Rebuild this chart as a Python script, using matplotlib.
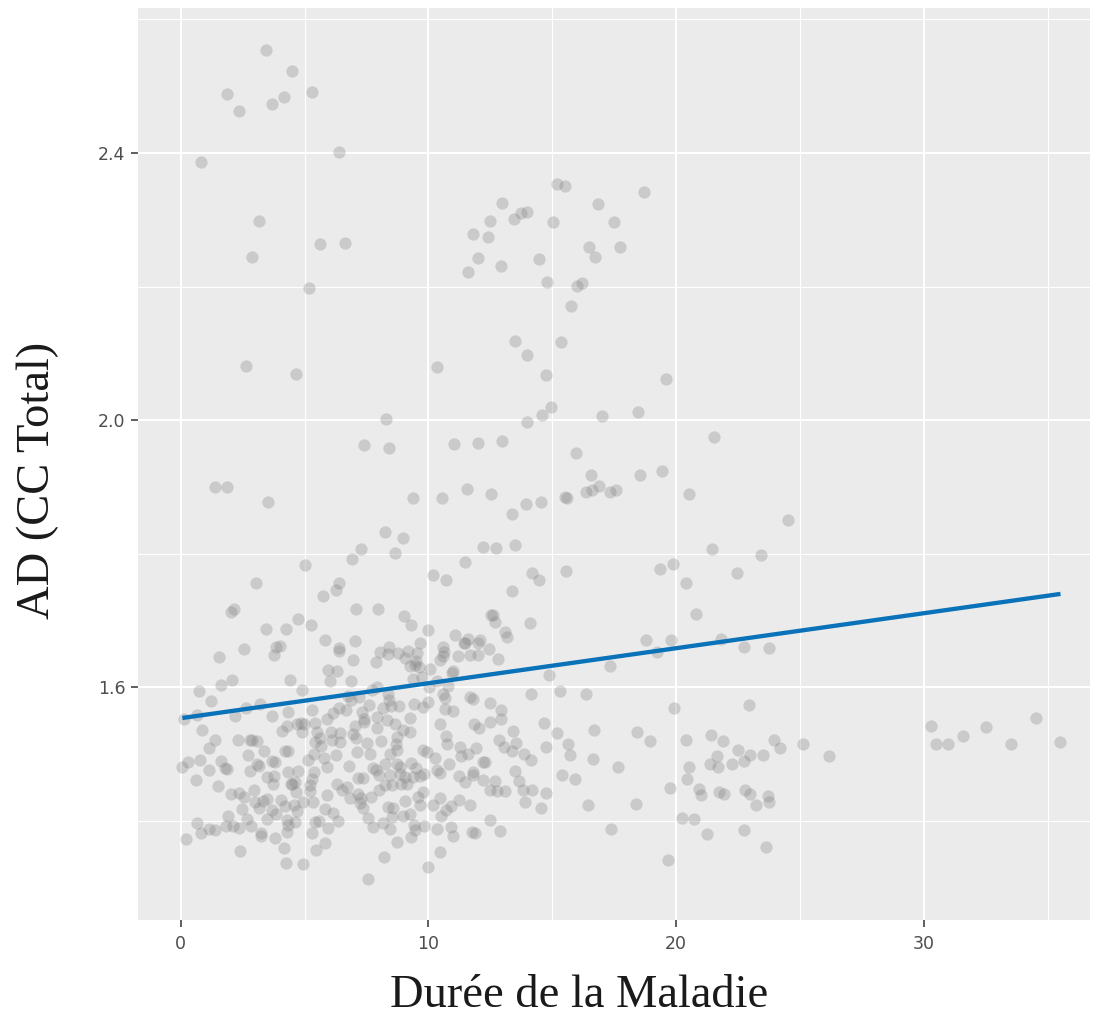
import numpy as np
import matplotlib
matplotlib.use('Agg')
import matplotlib.pyplot as plt

# ----------------- data -----------------#

duree = [
    3.46, 4.48, 1.87, 2.37, 3.69, 4.18, 5.30, 6.38, 0.82, 3.16, 2.89, 5.63, 6.62, 5.18,
    15.19, 15.51, 18.71, 12.97, 16.85, 13.73, 13.96, 13.44, 12.47, 15.03, 17.48, 11.81, 12.40,
    16.48, 17.72, 16.71, 12.00, 14.46, 12.93, 11.58, 14.78, 16.20, 15.98, 15.76, 13.48, 15.34,
    13.96, 10.36, 14.73, 19.59,
    2.64, 4.65, 8.27, 7.39, 8.41, 11.03, 1.38, 1.87, 3.52, 9.36, 10.56, 11.56, 8.23, 8.98,
    7.27, 8.66, 6.90, 5.01, 11.46, 10.18, 10.70, 3.04, 6.39, 6.27, 5.74, 2.15, 2.04, 7.09,
    7.98, 9.00, 9.28, 4.73, 5.25, 3.43, 4.25, 9.99,
    14.93, 14.59, 17.02, 18.44, 13.96, 12.01, 12.96, 21.51, 15.97, 16.57, 18.55, 19.43, 12.52,
    16.35, 16.59, 16.90, 17.33, 17.58, 15.51, 15.59, 20.52, 13.94, 14.53, 13.38, 24.50, 12.21,
    12.71, 13.50, 21.44, 23.41, 14.18, 14.46, 15.54, 19.36, 19.86, 22.44, 20.39, 13.38, 12.54,
    12.59, 12.69, 14.10, 20.79, 11.06, 11.58, 12.08, 13.10, 13.16, 18.77, 19.80, 21.81,
    1.55, 2.57, 3.83, 4.01, 3.78, 5.82, 6.39, 6.38, 7.05, 6.94, 5.95, 6.32, 6.01, 6.87, 0.75,
    1.64, 2.07, 4.40, 4.91, 1.22, 0.12, 0.67, 0.86, 2.20, 2.64, 3.20, 3.69, 4.34, 5.30, 4.08,
    4.29, 4.71, 4.87, 4.99, 5.43, 5.89, 6.15, 6.39, 6.66, 6.87, 7.21, 6.74, 1.38, 1.13, 2.33,
    2.79, 2.88, 3.09, 3.35, 4.90, 5.49, 5.62, 5.43, 6.05, 6.43, 6.43, 6.12, 7.03, 6.97, 7.08,
    5.67,
    8.42, 8.04, 8.37, 8.77, 9.19, 9.66, 9.55, 10.57, 10.63, 11.49, 11.43, 12.01, 12.44, 7.88,
    9.04, 9.50, 9.47, 9.25, 9.61, 10.06, 10.45, 10.60, 11.18, 11.68, 11.99, 12.79, 10.99,
    10.94, 9.39, 9.73, 10.33, 10.80, 14.85, 14.13, 10.03, 7.93, 8.38, 8.42, 8.48, 8.80, 8.18,
    7.73, 7.61, 7.33, 7.40, 7.41, 7.91, 7.93, 8.33, 8.64, 9.25, 8.97, 9.24, 9.42, 9.79, 9.99,
    10.57, 10.65, 10.67, 11.00, 11.68, 11.78, 12.49, 12.94, 12.94, 12.47, 11.85, 12.05, 10.48,
    13.42, 14.66, 7.51, 8.07, 8.72, 8.68, 10.71, 10.75, 11.27, 11.91, 12.85, 13.04, 13.54,
    14.73,
    0.77, 0.30, 0.07, 1.13, 0.62, 1.51, 1.61, 1.80, 1.88, 2.72, 3.09, 3.16, 2.80, 3.69, 3.82,
    4.21, 4.32, 4.34, 4.72, 3.50, 3.77, 3.74, 4.44, 4.61, 4.67, 4.48, 5.14, 5.38, 5.77, 6.27,
    5.89, 5.38, 5.30, 5.22, 5.21, 6.78, 7.10, 6.32, 6.51, 6.72, 7.16, 6.84, 5.92, 2.96, 2.02,
    2.35, 2.57, 3.00, 3.31, 3.17, 3.50, 2.46, 3.70, 3.83, 4.04, 4.22, 4.56, 4.68, 4.95, 5.33,
    5.82, 6.16, 6.35, 5.96, 5.59, 5.42, 5.31, 5.81, 5.47, 1.92, 0.67, 0.83, 1.15, 1.38, 1.83,
    2.12, 2.35, 2.66, 2.85, 3.47, 3.25, 3.23, 3.81, 4.28, 4.32, 4.28, 4.61, 0.21, 2.38, 4.16,
    4.25, 4.92,
    7.64, 8.72, 8.45, 9.77, 9.95, 10.26, 11.61, 11.30, 12.21, 12.29, 13.36, 13.85, 14.14, 7.77,
    7.88, 8.25, 8.72, 8.85, 9.31, 9.48, 8.02, 8.45, 8.85, 9.05, 9.39, 9.66, 9.82, 10.36, 10.46,
    10.84, 11.22, 11.49, 11.78, 11.81, 12.21, 12.70, 13.48, 13.66, 12.48, 12.78, 13.09, 13.80,
    14.19, 14.75, 13.91, 14.54, 7.17, 7.35, 7.26, 7.67, 8.02, 8.25, 8.52, 8.88, 9.12, 9.77,
    9.59, 9.66, 9.05, 8.38, 8.58, 8.52, 8.18, 8.45, 8.96, 9.25, 9.42, 9.47, 9.28, 8.74, 8.22,
    7.55, 7.24, 7.37, 7.57, 7.75, 9.82, 10.19, 10.46, 10.49, 10.71, 10.90, 11.22, 11.69, 10.33,
    10.90, 10.98, 11.74, 11.88, 12.49, 12.89, 10.48, 9.98,
    19.22, 22.75, 23.74, 17.34, 15.31, 16.36, 19.91, 22.92, 15.21, 16.69, 18.43, 18.93, 15.64,
    15.70, 16.64, 17.64, 15.38, 15.92, 16.43, 18.37, 17.38, 19.68, 20.38, 21.41, 21.89, 22.48,
    22.97, 23.51, 23.93, 24.20, 25.13, 26.15, 21.66, 21.37, 21.67, 22.24, 22.75, 20.53, 20.43,
    19.75, 20.93, 21.01, 21.72, 21.94, 22.77, 22.96, 23.71, 23.75, 23.22, 20.23, 20.73, 21.25,
    22.72, 23.63,
    30.29, 30.47, 30.95, 31.57, 32.50, 33.52, 34.52, 35.51,
]

ad_total = [
    2.554, 2.522, 2.488, 2.463, 2.473, 2.484, 2.492, 2.401, 2.386, 2.298, 2.244, 2.264, 2.265, 2.198,
    2.353, 2.350, 2.341, 2.325, 2.323, 2.310, 2.311, 2.301, 2.298, 2.296, 2.297, 2.279, 2.275,
    2.259, 2.259, 2.245, 2.243, 2.242, 2.231, 2.222, 2.207, 2.206, 2.201, 2.171, 2.119, 2.117,
    2.097, 2.079, 2.067, 2.062,
    2.081, 2.069, 2.002, 1.963, 1.958, 1.965, 1.900, 1.900, 1.877, 1.884, 1.883, 1.897, 1.832, 1.824,
    1.808, 1.802, 1.792, 1.783, 1.788, 1.769, 1.761, 1.757, 1.757, 1.746, 1.737, 1.718, 1.713, 1.717,
    1.717, 1.707, 1.693, 1.702, 1.694, 1.687, 1.687, 1.686,
    2.020, 2.008, 2.007, 2.013, 1.997, 1.966, 1.969, 1.975, 1.951, 1.918, 1.918, 1.924, 1.889,
    1.892, 1.895, 1.902, 1.893, 1.896, 1.885, 1.883, 1.889, 1.874, 1.877, 1.860, 1.851, 1.811,
    1.809, 1.813, 1.808, 1.798, 1.772, 1.761, 1.775, 1.777, 1.785, 1.772, 1.757, 1.745, 1.709,
    1.708, 1.698, 1.696, 1.710, 1.678, 1.673, 1.671, 1.683, 1.676, 1.671, 1.671, 1.672,
    1.645, 1.657, 1.660, 1.662, 1.648, 1.671, 1.659, 1.655, 1.669, 1.641, 1.626, 1.624, 1.610, 1.610, 1.595,
    1.603, 1.611, 1.611, 1.596, 1.580, 1.553, 1.559, 1.536, 1.558, 1.570, 1.576, 1.558, 1.564, 1.566, 1.535,
    1.542, 1.545, 1.547, 1.545, 1.547, 1.553, 1.562, 1.569, 1.566, 1.581, 1.586, 1.588, 1.522, 1.510, 1.521,
    1.522, 1.521, 1.520, 1.505, 1.534, 1.534, 1.525, 1.518, 1.533, 1.532, 1.519, 1.521, 1.543, 1.530, 1.525,
    1.513,
    1.661, 1.653, 1.650, 1.652, 1.655, 1.666, 1.652, 1.661, 1.653, 1.666, 1.667, 1.666, 1.658, 1.638,
    1.644, 1.640, 1.634, 1.632, 1.630, 1.628, 1.641, 1.647, 1.647, 1.649, 1.648, 1.642, 1.625,
    1.622, 1.613, 1.616, 1.609, 1.602, 1.618, 1.591, 1.601, 1.600, 1.590, 1.581, 1.573, 1.572, 1.570,
    1.596, 1.574, 1.563, 1.553, 1.549, 1.556, 1.540, 1.551, 1.546, 1.554, 1.537, 1.533, 1.575, 1.571, 1.578,
    1.590, 1.585, 1.568, 1.565, 1.586, 1.583, 1.577, 1.566, 1.553, 1.548, 1.545, 1.539, 1.545,
    1.535, 1.547, 1.517, 1.520, 1.526, 1.516, 1.528, 1.516, 1.511, 1.509, 1.522, 1.511, 1.517,
    1.511,
    1.492, 1.488, 1.481, 1.476, 1.462, 1.452, 1.490, 1.480, 1.478, 1.499, 1.485, 1.482, 1.475, 1.490, 1.488,
    1.505, 1.505, 1.473, 1.475, 1.466, 1.467, 1.455, 1.456, 1.459, 1.444, 1.455, 1.491, 1.501, 1.495, 1.499,
    1.481, 1.474, 1.463, 1.454, 1.445, 1.482, 1.504, 1.455, 1.447, 1.451, 1.441, 1.434, 1.439, 1.447, 1.440,
    1.442, 1.436, 1.428, 1.430, 1.419, 1.433, 1.418, 1.416, 1.411, 1.431, 1.423, 1.424, 1.415, 1.429, 1.429,
    1.418, 1.412, 1.400, 1.389, 1.400, 1.399, 1.382, 1.367, 1.357, 1.407, 1.397, 1.382, 1.388, 1.387, 1.393,
    1.392, 1.390, 1.403, 1.393, 1.403, 1.382, 1.377, 1.375, 1.401, 1.394, 1.384, 1.398, 1.373, 1.356, 1.360,
    1.338, 1.336,
    1.501, 1.506, 1.501, 1.507, 1.503, 1.494, 1.500, 1.498, 1.488, 1.488, 1.505, 1.500, 1.492, 1.479,
    1.476, 1.486, 1.486, 1.481, 1.487, 1.479, 1.469, 1.469, 1.471, 1.466, 1.466, 1.467, 1.471, 1.476, 1.472,
    1.485, 1.467, 1.458, 1.474, 1.469, 1.461, 1.460, 1.475, 1.460, 1.446, 1.445, 1.445, 1.446,
    1.446, 1.442, 1.429, 1.420, 1.464, 1.464, 1.435, 1.436, 1.446, 1.454, 1.454, 1.456, 1.456, 1.444,
    1.436, 1.424, 1.430, 1.421, 1.419, 1.406, 1.397, 1.388, 1.407, 1.410, 1.394, 1.387, 1.376, 1.368, 1.346,
    1.313, 1.427, 1.419, 1.404, 1.391, 1.393, 1.424, 1.435, 1.407, 1.416, 1.423, 1.431, 1.424, 1.388,
    1.391, 1.378, 1.383, 1.382, 1.401, 1.385, 1.354, 1.332,
    1.653, 1.660, 1.659, 1.632, 1.594, 1.590, 1.569, 1.574, 1.532, 1.537, 1.534, 1.520, 1.516,
    1.499, 1.493, 1.481, 1.469, 1.463, 1.424, 1.426, 1.388, 1.342, 1.522, 1.529, 1.520, 1.507,
    1.499, 1.499, 1.522, 1.509, 1.516, 1.498, 1.498, 1.485, 1.481, 1.485, 1.490, 1.481, 1.463,
    1.449, 1.448, 1.439, 1.444, 1.441, 1.447, 1.441, 1.437, 1.429, 1.424, 1.404, 1.403, 1.381,
    1.387, 1.361,
    1.543, 1.515, 1.515, 1.528, 1.541, 1.515, 1.554, 1.519,
]

# regression line as drawn in the original (lm fit)
fit_intercept = 1.554
fit_slope = 0.00524

x = np.array(duree)
y = np.array(ad_total)

#----------------- figure -----------------#

fig = plt.figure(figsize=(10.97, 10.16), dpi=100)
ax = fig.add_axes([0.1258, 0.0945, 0.8678, 0.8976])
ax.set_facecolor('#EBEBEB')
fig.patch.set_facecolor('white')

ax.scatter(x, y, s=78, color='#7F7F7F', alpha=0.3, linewidths=0, zorder=3)

xs = np.array([x.min(), x.max()])
ax.plot(xs, fit_intercept + fit_slope * xs, color='#0A72B8', lw=3.1,
        solid_capstyle='butt', zorder=4)

ax.set_xlim(-1.72, 36.7)
ax.set_ylim(1.252, 2.617)
ax.set_xticks([0, 10, 20, 30])
ax.set_xticks([5, 15, 25, 35], minor=True)
ax.set_yticks([1.6, 2.0, 2.4])
ax.set_yticks([1.4, 1.8, 2.2, 2.6], minor=True)
ax.set_yticklabels(['1.6', '2.0', '2.4'])

ax.grid(which='major', color='white', lw=1.5, zorder=1)
ax.grid(which='minor', color='white', lw=0.8, zorder=1)
ax.set_axisbelow(True)
for s in ax.spines.values():
    s.set_visible(False)

ax.tick_params(which='major', length=5, width=1.1, color='#333333',
               labelcolor='#4D4D4D', labelsize=12.5)
ax.tick_params(axis='x', pad=6)
ax.tick_params(axis='y', pad=4)
ax.tick_params(which='minor', length=0)
for lab in ax.get_xticklabels() + ax.get_yticklabels():
    lab.set_family(['DejaVu Sans'])

ax.set_xlabel('Durée de la Maladie', fontsize=33.5, family='Liberation Serif',
              color='#1A1A1A', labelpad=15)
ax.set_ylabel('AD (CC Total)', fontsize=33.5, family='Liberation Serif',
              color='#1A1A1A', labelpad=28)
# titles sit a little off the panel centre in the original
ax.xaxis.label.set_x(0.463)
ax.yaxis.label.set_y(0.482)

fig.savefig('out.png', dpi=100)
